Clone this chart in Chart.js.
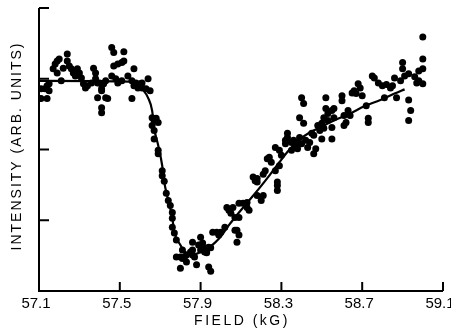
<!DOCTYPE html>
<html>
<head>
<meta charset="utf-8">
<script src="https://cdn.jsdelivr.net/npm/chart.js@4.4.1/dist/chart.umd.min.js"></script>
<style>
  html, body { margin: 0; padding: 0; background: #fff; }
  canvas { display: block; }
</style>
</head>
<body>
<canvas id="canvas1" width="451" height="328"></canvas>
<script>
// measured points: field (kG) and intensity (arb. units)
const fieldKG = [
    57.10, 57.11, 57.11, 57.13, 57.14, 57.14, 57.15, 57.15, 57.17, 57.18,
    57.19, 57.19, 57.20, 57.21, 57.22, 57.24, 57.24, 57.25, 57.26, 57.27,
    57.28, 57.29, 57.29, 57.30, 57.31, 57.32, 57.33, 57.34, 57.36, 57.37,
    57.38, 57.38, 57.39, 57.40, 57.39, 57.41, 57.41, 57.41, 57.41, 57.43,
    57.44, 57.42, 57.43, 57.46, 57.47, 57.52, 57.49, 57.51, 57.52, 57.47,
    57.46, 57.48, 57.49, 57.51, 57.54, 57.56, 57.57, 57.56, 57.58, 57.60,
    57.61, 57.57, 57.61, 57.64, 57.59, 57.63, 57.65,
    57.66, 57.67, 57.68, 57.69, 57.66, 57.67, 57.67, 57.69, 57.69, 57.71,
    57.71, 57.72, 57.73, 57.74, 57.75, 57.76, 57.76, 57.76, 57.77, 57.78,
    57.78, 57.80, 57.81, 57.81, 57.82, 57.83, 57.85, 57.80, 57.83, 57.86,
    57.86, 57.87, 57.86, 57.88, 57.89, 57.90, 57.90, 57.91, 57.92, 57.92,
    57.93, 57.93, 57.94, 57.95, 57.94, 57.95, 57.96, 57.98, 57.99, 58.00,
    58.02, 58.03, 58.04, 58.05, 58.06, 58.08, 58.09, 58.08, 58.07, 58.09,
    58.07, 58.09, 58.11, 58.13, 58.13, 58.14,
    58.16, 58.17, 58.18, 58.18, 58.18, 58.20, 58.21, 58.21, 58.22, 58.23,
    58.24, 58.25, 58.27, 58.28, 58.28, 58.28, 58.29, 58.30, 58.32, 58.33,
    58.33, 58.32, 58.35, 58.36, 58.37, 58.38, 58.38, 58.39, 58.40, 58.42,
    58.43, 58.44, 58.45, 58.46, 58.47, 58.46, 58.48, 58.49, 58.50, 58.51,
    58.50, 58.53, 58.39, 58.41, 58.40, 58.41, 58.29, 58.27, 58.35, 58.55,
    58.52, 58.52, 58.53, 58.51, 58.55, 58.56, 58.56, 58.55, 58.60, 58.60,
    58.61, 58.62, 58.61, 58.64, 58.63, 58.66, 58.67, 58.68, 58.69, 58.65,
    58.70, 58.72, 58.73, 58.73, 58.75, 58.76, 58.78, 58.80, 58.82, 58.84,
    58.85, 58.86, 58.89, 58.90, 58.90, 58.91, 58.93, 58.96, 58.97, 58.98,
    58.98, 59.00, 59.00, 59.00, 59.00, 58.81, 58.87, 58.93, 58.94, 58.93
];
const intensity = [
    2.72, 2.86, 2.72, 2.86, 2.90, 2.72, 2.83, 2.93, 3.14, 3.21,
    3.08, 3.25, 3.28, 2.97, 3.15, 3.35, 3.25, 3.18, 3.14, 3.08,
    3.04, 3.14, 3.07, 3.08, 3.01, 2.93, 2.87, 2.90, 2.94, 3.15,
    3.08, 3.00, 2.94, 2.94, 2.73, 2.86, 2.83, 2.59, 2.52, 2.73,
    2.72, 2.93, 2.97, 3.44, 3.37, 3.38, 3.21, 3.23, 3.25, 3.18,
    3.04, 3.00, 2.94, 2.97, 3.04, 2.97, 3.14, 2.72, 2.94, 2.93,
    2.87, 2.90, 2.94, 3.00, 2.87, 2.86, 2.83,
    2.45, 2.41, 2.44, 2.38, 2.34, 2.27, 2.15, 1.99, 1.94, 1.70,
    1.63, 1.55, 1.38, 1.28, 1.21, 1.11, 1.03, 0.90, 0.82, 0.72,
    0.48, 0.48, 0.58, 0.46, 0.48, 0.51, 0.55, 0.32, 0.41, 0.69,
    0.58, 0.48, 0.51, 0.37, 0.65, 0.58, 0.76, 0.68, 0.61, 0.55,
    0.54, 0.58, 0.62, 0.61, 0.34, 0.28, 0.83, 0.83, 0.79, 0.83,
    0.90, 1.18, 1.14, 1.10, 1.18, 0.86, 0.79, 0.69, 1.04, 1.04,
    0.86, 1.24, 1.24, 1.25, 1.18, 1.14,
    1.61, 1.56, 1.59, 1.54, 1.35, 1.28, 1.35, 1.65, 1.70, 1.87,
    1.89, 1.82, 1.70, 1.54, 1.49, 1.42, 1.77, 1.92, 2.08, 2.23,
    2.17, 2.13, 2.10, 2.13, 2.03, 2.10, 2.01, 2.17, 2.08, 2.13,
    2.03, 2.10, 2.23, 2.20, 2.01, 1.94, 2.34, 2.27, 2.37, 2.30,
    2.15, 2.41, 2.45, 2.37, 2.73, 2.65, 1.99, 2.03, 1.99, 2.15,
    2.73, 2.58, 2.51, 2.45, 2.55, 2.58, 2.45, 2.31, 2.76, 2.69,
    2.48, 2.38, 2.34, 2.48, 2.55, 2.83, 2.79, 2.93, 2.87, 2.80,
    2.76, 2.62, 2.44, 2.38, 3.04, 3.01, 2.94, 2.90, 2.92, 2.87,
    2.90, 3.01, 2.97, 3.14, 3.23, 3.04, 3.07, 3.03, 2.94, 3.11,
    2.97, 2.93, 3.14, 3.28, 3.59, 2.73, 2.73, 2.70, 2.55, 2.41
];

// fitted curve
const curveField = [
    57.10, 57.55, 57.59, 57.61, 57.64, 57.66, 57.67, 57.69, 57.71, 57.72,
    57.74, 57.76, 57.77, 57.80, 57.82, 57.85, 57.87, 57.90, 57.93, 57.97,
    58.00, 58.04, 58.09, 58.14, 58.19, 58.24, 58.29, 58.34, 58.39, 58.44,
    58.49, 58.56, 58.64, 58.71, 58.79, 58.86, 58.91
];
const curveIntensity = [
    2.97, 2.96, 2.92, 2.86, 2.73, 2.55, 2.30, 2.06, 1.77, 1.54,
    1.28, 1.03, 0.83, 0.65, 0.56, 0.52, 0.52, 0.55, 0.59, 0.68,
    0.77, 0.93, 1.11, 1.28, 1.45, 1.63, 1.82, 2.00, 2.14, 2.24,
    2.31, 2.41, 2.51, 2.61, 2.70, 2.79, 2.85
];

const xTicks = [57.1, 57.5, 57.9, 58.3, 58.7, 59.1];
const xTickLabels = ['57.1', '57.5', '57.9', '58.3', '58.7', '59.1'];
const yTicks = [0, 1, 2, 3, 4];

const points = fieldKG.map((f, i) => ({ x: f, y: intensity[i] }));
const curve = curveField.map((f, i) => ({ x: f, y: curveIntensity[i] }));

// old paper style axes: inward ticks, no top/right frame
const paperAxes = {
    id: 'paperAxes',
    afterDraw(chart) {
        const ctx = chart.ctx;
        const xs = chart.scales.x;
        const ys = chart.scales.y;
        const left = xs.getPixelForValue(xTicks[0]);
        const right = xs.getPixelForValue(xTicks[xTicks.length - 1]);
        const bottom = ys.getPixelForValue(yTicks[0]);
        const top = ys.getPixelForValue(yTicks[yTicks.length - 1]);

        ctx.save();
        ctx.strokeStyle = '#000';
        ctx.lineWidth = 2;
        ctx.beginPath();
        ctx.moveTo(left, top);
        ctx.lineTo(left, bottom);
        ctx.lineTo(right, bottom);
        yTicks.forEach(v => {
            const py = ys.getPixelForValue(v);
            ctx.moveTo(left, py);
            ctx.lineTo(left + 10, py);
        });
        xTicks.forEach(v => {
            const px = xs.getPixelForValue(v);
            ctx.moveTo(px, bottom);
            ctx.lineTo(px, bottom - 9);
        });
        ctx.stroke();

        ctx.fillStyle = '#000';
        ctx.font = '15px "Liberation Sans", Arial, sans-serif';
        ctx.textAlign = 'center';
        ctx.textBaseline = 'middle';
        xTicks.forEach((v, i) => {
            ctx.fillText(xTickLabels[i], xs.getPixelForValue(v) - 3, bottom + 13);
        });

        ctx.font = '14px "Liberation Sans", Arial, sans-serif';
        ctx.letterSpacing = '2.5px';
        ctx.fillText('FIELD (kG)', 242, bottom + 30);

        ctx.letterSpacing = '2px';
        ctx.translate(17, 146);
        ctx.rotate(-Math.PI / 2);
        ctx.fillText('INTENSITY (ARB. UNITS)', 0, 0);
        ctx.restore();
    }
};

const ctx1 = document.getElementById('canvas1').getContext('2d');

const myChart1 = new Chart(ctx1, {
    type: 'scatter',
    data: {
        datasets: [{
            label: 'data',
            data: points,
            backgroundColor: '#000',
            borderColor: '#000',
            pointRadius: 3.5,
            pointBorderWidth: 0
        }, {
            type: 'line',
            label: 'fit',
            data: curve,
            borderColor: '#000',
            borderWidth: 2.2,
            pointRadius: 0,
            fill: false,
            cubicInterpolationMode: 'monotone'
        }]
    },
    options: {
        responsive: false,
        animation: false,
        layout: {
            padding: { left: 39, right: 8, top: 8, bottom: 37 }
        },
        plugins: {
            legend: { display: false },
            tooltip: { enabled: false }
        },
        scales: {
            x: { type: 'linear', min: 57.1, max: 59.1, display: false },
            y: { type: 'linear', min: 0, max: 4, display: false }
        }
    },
    plugins: [paperAxes]
});
</script>
</body>
</html>
